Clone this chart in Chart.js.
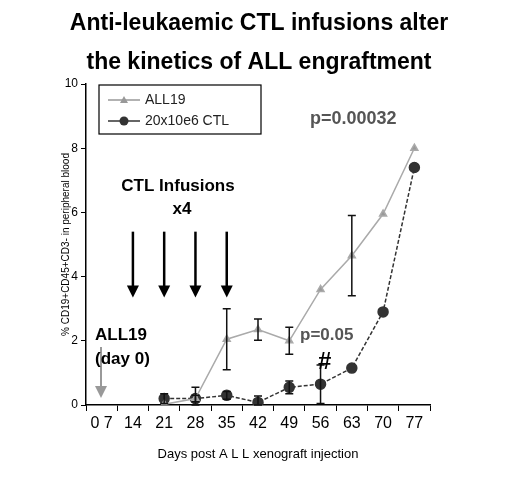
<!DOCTYPE html>
<html>
<head>
<script src="https://cdn.jsdelivr.net/npm/chart.js@4"></script>
<style>body{margin:0;background:#fff}#wrap{width:520px;height:479px}</style>
</head>
<body>
<div id="wrap"><canvas id="c"></canvas></div>
<script>
const days = ["0 7","14","21","28","35","42","49","56","63","70","77"];
const all19 = [null,null,0.02,0.2,2.05,2.35,2.0,3.6,4.65,5.95,8.0];
const all19Err = [null,null,null,0.35,0.95,0.33,0.42,null,1.25,null,null];
const ctl = [null,null,0.2,0.2,0.3,0.08,0.55,0.65,1.15,2.9,7.4];
const ctlErr = [null,null,0.15,0.1,0.12,0.2,0.2,0.6,null,null,null];
const arrowDays = [1,2,3,4];

const overlay = {
  id: "overlay",
  afterDatasetsDraw(chart) {
    const c = chart.ctx, x = chart.scales.x, y = chart.scales.y;
    c.save();
    c.strokeStyle = "#111"; c.lineWidth = 1.5;
    // error bars
    [[all19, all19Err], [ctl, ctlErr]].forEach(([v, e]) => {
      v.forEach((val, i) => {
        if (val == null || e[i] == null) return;
        const px = x.getPixelForValue(i);
        const lo = y.getPixelForValue(Math.max(0, val - e[i])), hi = y.getPixelForValue(val + e[i]);
        c.beginPath();
        c.moveTo(px, lo); c.lineTo(px, hi);
        c.moveTo(px - 4, lo); c.lineTo(px + 4, lo);
        c.moveTo(px - 4, hi); c.lineTo(px + 4, hi);
        c.stroke();
      });
    });
    // infusion arrows
    c.fillStyle = "#000"; c.strokeStyle = "#000"; c.lineWidth = 2.5;
    arrowDays.forEach(i => {
      const px = x.getPixelForValue(i);
      const top = y.getPixelForValue(5.4), tip = y.getPixelForValue(3.35);
      c.beginPath(); c.moveTo(px, top); c.lineTo(px, tip - 10); c.stroke();
      c.beginPath(); c.moveTo(px - 6, tip - 12); c.lineTo(px + 6, tip - 12); c.lineTo(px, tip); c.closePath(); c.fill();
    });
    // day 0 arrow
    c.strokeStyle = "#999"; c.fillStyle = "#999"; c.lineWidth = 2;
    c.beginPath(); c.moveTo(101, 347); c.lineTo(101, 388); c.stroke();
    c.beginPath(); c.moveTo(95, 386); c.lineTo(107, 386); c.lineTo(101, 398); c.closePath(); c.fill();
    // annotations
    c.fillStyle = "#000"; c.font = "bold 17px Arial"; c.textAlign = "center"; c.textBaseline = "middle";
    c.fillText("CTL Infusions", 178, 186);
    c.fillText("x4", 182, 209);
    c.textAlign = "left";
    c.fillText("ALL19", 95, 335);
    c.fillText("(day 0)", 95, 359);
    c.fillStyle = "#555";
    c.fillText("p=0.05", 300, 335);
    c.font = "bold 18px Arial";
    c.fillText("p=0.00032", 310, 119);
    c.fillStyle = "#000"; c.font = "bold 24px Arial";
    c.fillText("#", 318, 362);
    // legend box
    c.strokeStyle = "#000"; c.lineWidth = 1.2;
    c.strokeRect(99, 85, 162, 49);
    c.lineWidth = 1.5; c.strokeStyle = "#999"; c.fillStyle = "#999";
    c.beginPath(); c.moveTo(108, 100); c.lineTo(140, 100); c.stroke();
    c.beginPath(); c.moveTo(124, 96); c.lineTo(128, 103); c.lineTo(120, 103); c.closePath(); c.fill();
    c.strokeStyle = "#333"; c.fillStyle = "#333";
    c.beginPath(); c.moveTo(108, 121); c.lineTo(140, 121); c.stroke();
    c.beginPath(); c.arc(124, 121, 4.5, 0, Math.PI * 2); c.fill();
    c.fillStyle = "#222"; c.font = "14px Arial";
    c.fillText("ALL19", 145, 100);
    c.fillText("20x10e6 CTL", 145, 121);
    c.restore();
  },
  afterDraw(chart) {
    const c = chart.ctx;
    c.save();
    c.fillStyle = "#000"; c.textAlign = "center"; c.textBaseline = "middle";
    c.font = "bold 23px Arial";
    c.fillText("Anti-leukaemic CTL infusions alter", 259, 24);
    c.fillText("the kinetics of ALL engraftment", 259, 63);
    c.restore();
  }
};

new Chart(document.getElementById("c"), {
  type: "line",
  data: {
    labels: days,
    datasets: [
      { label: "ALL19", data: all19, borderColor: "#aaa", backgroundColor: "#999", borderWidth: 1.5,
        pointStyle: "triangle", pointRadius: 4, spanGaps: false },
      { label: "20x10e6 CTL", data: ctl, borderColor: "#333", backgroundColor: "#333", borderWidth: 1.5,
        borderDash: [4, 2], pointStyle: "circle", pointRadius: 5 }
    ]
  },
  options: {
    responsive: true, maintainAspectRatio: false, animation: false,
    layout: { padding: { left: 60, top: 84, right: 90, bottom: 17 } },
    plugins: { legend: { display: false }, tooltip: { enabled: false } },
    scales: {
      x: {
        offset: true,
        afterFit(s) { s.height = 57; },
        grid: { display: true, drawOnChartArea: false, offset: true, color: "#000", tickLength: 6 },
        border: { color: "#000", width: 1.5 },
        ticks: { color: "#000", font: { size: 16, family: "Arial" }, maxRotation: 0, autoSkip: false },
        title: { display: true, text: "Days post A L L xenograft injection", color: "#000", font: { size: 13, family: "Arial" }, padding: 0 }
      },
      y: {
        min: 0, max: 10,
        afterFit(s) { s.width = 26; },
        grid: { display: true, drawOnChartArea: false, color: "#000", tickLength: 5 },
        border: { color: "#000", width: 1.5 },
        ticks: { stepSize: 2, color: "#000", font: { size: 12, family: "Arial" } },
        title: { display: true, text: "% CD19+CD45+CD3- in peripheral blood", color: "#000", font: { size: 10, family: "Arial" }, padding: 0 }
      }
    }
  },
  plugins: [overlay]
});
</script>
</body>
</html>
